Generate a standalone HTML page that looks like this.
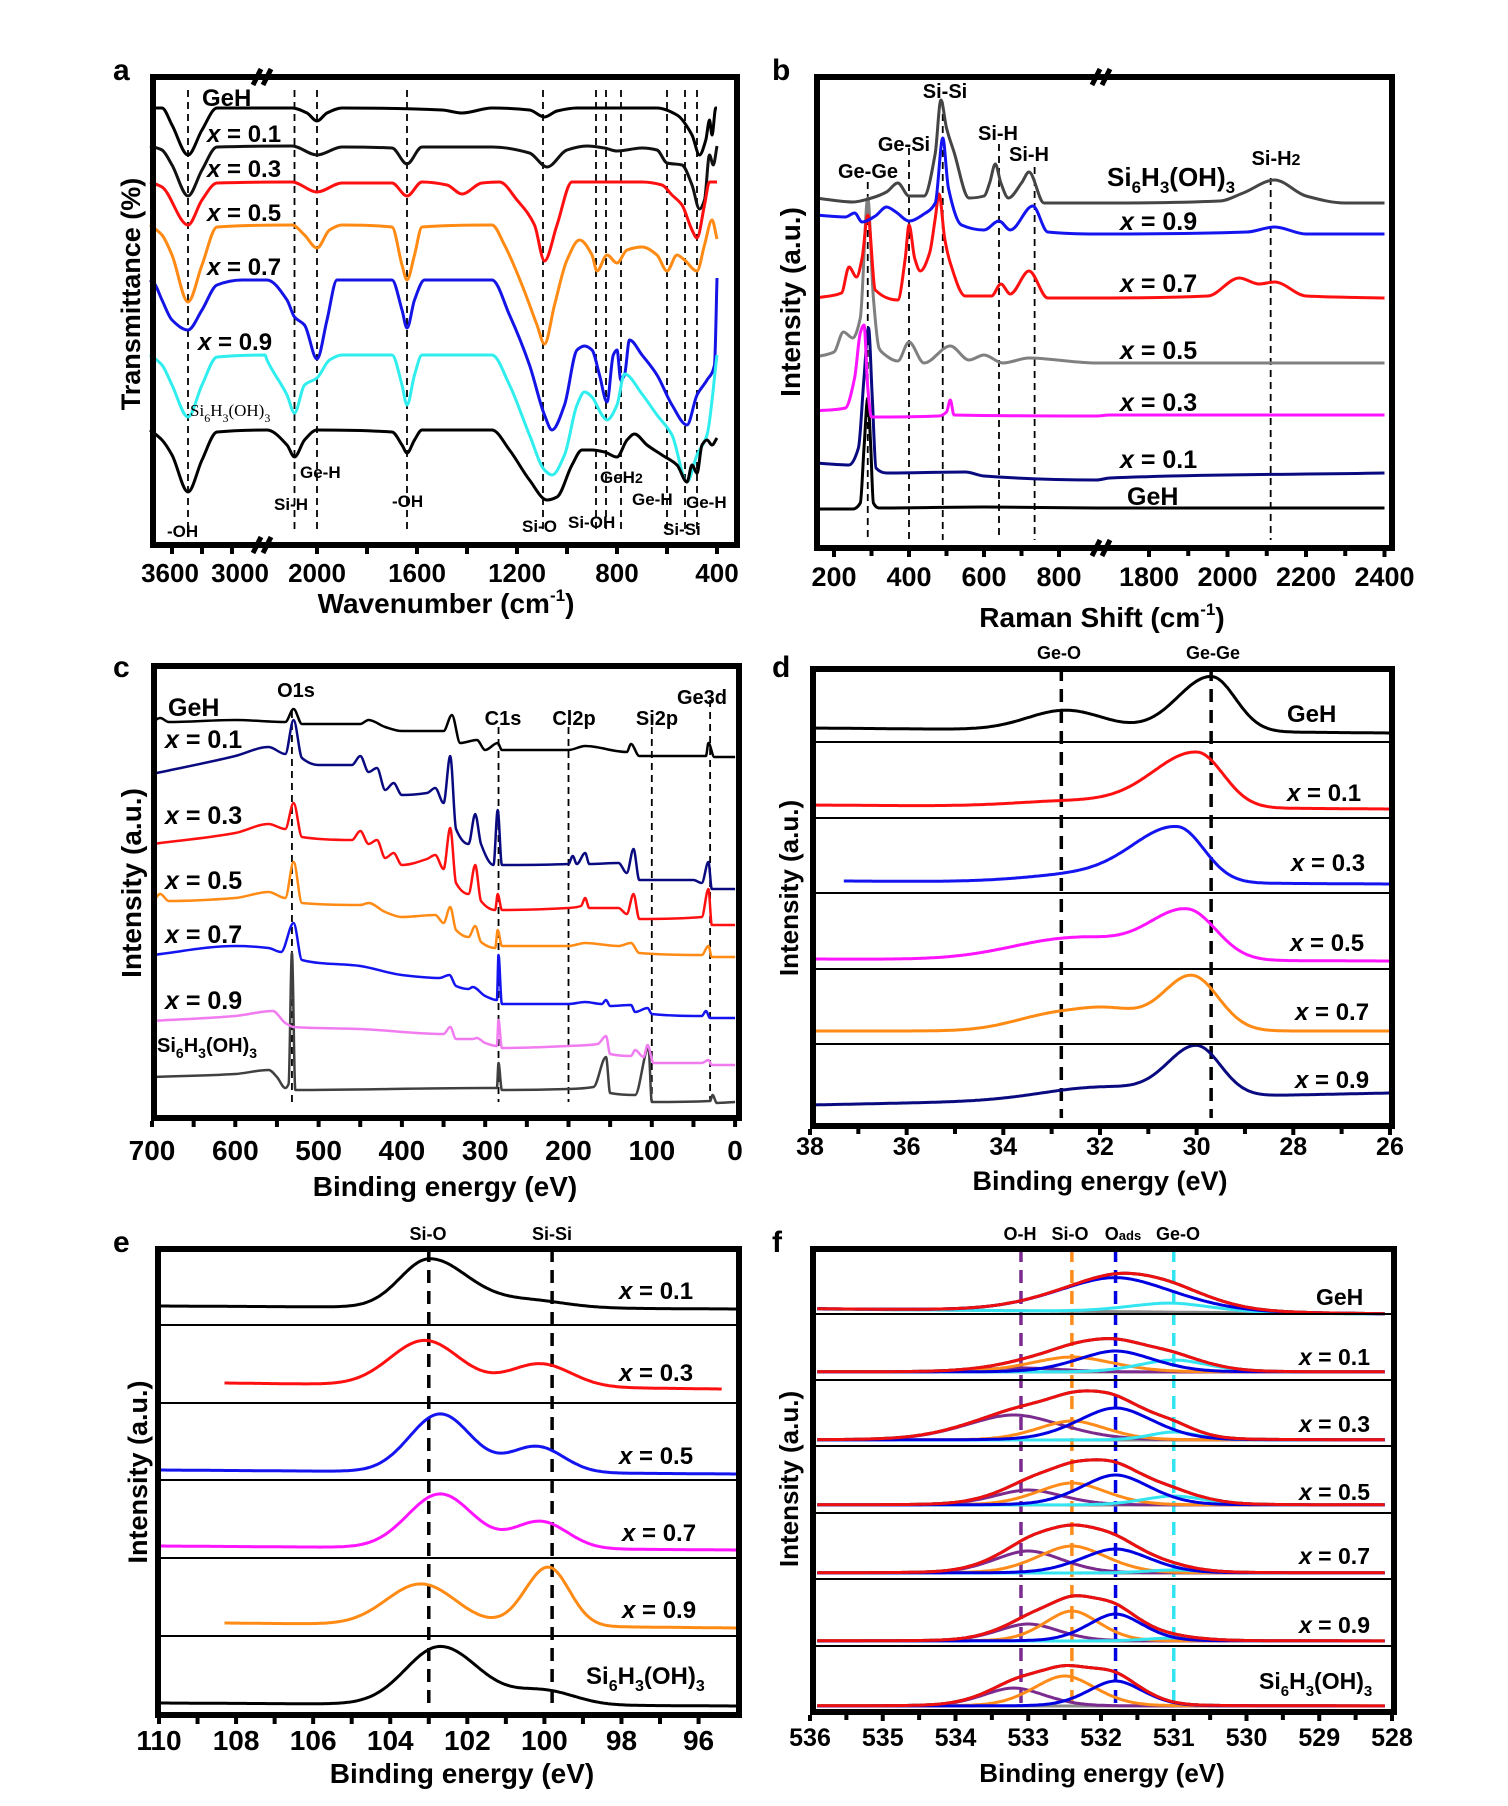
<!DOCTYPE html>
<html><head><meta charset="utf-8"><style>
html,body{margin:0;padding:0;background:#fff}
svg{display:block}
text{font-family:"Liberation Sans",Arial,sans-serif;font-weight:bold;fill:#000}
</style></head><body>
<svg id="fig" xmlns="http://www.w3.org/2000/svg" width="1508" height="1806" viewBox="0 0 1508 1806">
<rect x="0" y="0" width="1508" height="1806" fill="#fff"/>
<g id="layer-curves"></g>
<g id="layer-frame"></g>

<text x="113" y="80" font-size="30">a</text>
<text x="772" y="80" font-size="30">b</text>
<text x="113" y="677" font-size="30">c</text>
<text x="772" y="677" font-size="30">d</text>
<text x="113" y="1252" font-size="30">e</text>
<text x="772" y="1252" font-size="30">f</text>

<g>
<text x="202" y="106" font-size="24">GeH</text>
<text x="207" y="142" font-size="24"><tspan font-style="italic">x</tspan> = 0.1</text>
<text x="207" y="177" font-size="24"><tspan font-style="italic">x</tspan> = 0.3</text>
<text x="207" y="221" font-size="24"><tspan font-style="italic">x</tspan> = 0.5</text>
<text x="207" y="275" font-size="24"><tspan font-style="italic">x</tspan> = 0.7</text>
<text x="198" y="350" font-size="24"><tspan font-style="italic">x</tspan> = 0.9</text>
<text x="190" y="416" font-size="17" style="font-family:'Liberation Serif',serif;font-weight:normal">Si<tspan font-size="12" dy="6">6</tspan><tspan dy="-6">H</tspan><tspan font-size="12" dy="6">3</tspan><tspan dy="-6">(OH)</tspan><tspan font-size="12" dy="6">3</tspan></text>
<text x="300" y="478" font-size="17">Ge-H</text>
<text x="274" y="510" font-size="17">Si-H</text>
<text x="167" y="537" font-size="17">-OH</text>
<text x="392" y="507" font-size="17">-OH</text>
<text x="522" y="532" font-size="17">Si-O</text>
<text x="568" y="528" font-size="17">Si-OH</text>
<text x="600" y="483" font-size="17">GeH<tspan font-size="14">2</tspan></text>
<text x="632" y="505" font-size="17">Ge-H</text>
<text x="686" y="508" font-size="17">Ge-H</text>
<text x="663" y="535" font-size="17">Si-Si</text>
<text x="446" y="613" font-size="28" text-anchor="middle">Wavenumber (cm<tspan font-size="17" dy="-12">-1</tspan><tspan dy="12">)</tspan></text>
<text transform="translate(140,294) rotate(-90)" font-size="27" text-anchor="middle">Transmittance (%)</text>
</g>

<g>
<text x="945" y="98" font-size="20" text-anchor="middle">Si-Si</text>
<text x="904" y="151" font-size="20" text-anchor="middle">Ge-Si</text>
<text x="868" y="178" font-size="20" text-anchor="middle">Ge-Ge</text>
<text x="998" y="140" font-size="20" text-anchor="middle">Si-H</text>
<text x="1029" y="161" font-size="20" text-anchor="middle">Si-H</text>
<text x="1276" y="165" font-size="20" text-anchor="middle">Si-H<tspan font-size="16">2</tspan></text>
<text x="1107" y="186" font-size="26">Si<tspan font-size="17" dy="7">6</tspan><tspan dy="-7">H</tspan><tspan font-size="17" dy="7">3</tspan><tspan dy="-7">(OH)</tspan><tspan font-size="17" dy="7">3</tspan></text>
<text x="1120" y="230" font-size="25"><tspan font-style="italic">x</tspan> = 0.9</text>
<text x="1120" y="292" font-size="25"><tspan font-style="italic">x</tspan> = 0.7</text>
<text x="1120" y="359" font-size="25"><tspan font-style="italic">x</tspan> = 0.5</text>
<text x="1120" y="411" font-size="25"><tspan font-style="italic">x</tspan> = 0.3</text>
<text x="1120" y="468" font-size="25"><tspan font-style="italic">x</tspan> = 0.1</text>
<text x="1127" y="505" font-size="25">GeH</text>
<text x="1102" y="627" font-size="28" text-anchor="middle">Raman Shift (cm<tspan font-size="17" dy="-12">-1</tspan><tspan dy="12">)</tspan></text>
<text transform="translate(800,302) rotate(-90)" font-size="28" text-anchor="middle">Intensity (a.u.)</text>
</g>

<g>
<text x="296" y="697" font-size="20" text-anchor="middle">O1s</text>
<text x="503" y="725" font-size="20" text-anchor="middle">C1s</text>
<text x="574" y="725" font-size="20" text-anchor="middle">Cl2p</text>
<text x="657" y="725" font-size="20" text-anchor="middle">Si2p</text>
<text x="702" y="704" font-size="20" text-anchor="middle">Ge3d</text>
<text x="168" y="716" font-size="25">GeH</text>
<text x="165" y="748" font-size="25"><tspan font-style="italic">x</tspan> = 0.1</text>
<text x="165" y="824" font-size="25"><tspan font-style="italic">x</tspan> = 0.3</text>
<text x="165" y="889" font-size="25"><tspan font-style="italic">x</tspan> = 0.5</text>
<text x="165" y="943" font-size="25"><tspan font-style="italic">x</tspan> = 0.7</text>
<text x="165" y="1009" font-size="25"><tspan font-style="italic">x</tspan> = 0.9</text>
<text x="157" y="1052" font-size="20">Si<tspan font-size="14" dy="6">6</tspan><tspan dy="-6">H</tspan><tspan font-size="14" dy="6">3</tspan><tspan dy="-6">(OH)</tspan><tspan font-size="14" dy="6">3</tspan></text>
<text x="445" y="1196" font-size="28" text-anchor="middle">Binding energy (eV)</text>
<text transform="translate(141,883) rotate(-90)" font-size="28" text-anchor="middle">Intensity (a.u.)</text>
</g>

<g>
<text x="1059" y="659" font-size="18" text-anchor="middle">Ge-O</text>
<text x="1213" y="659" font-size="18" text-anchor="middle">Ge-Ge</text>
<text x="1287" y="722" font-size="24">GeH</text>
<text x="1287" y="801" font-size="24"><tspan font-style="italic">x</tspan> = 0.1</text>
<text x="1291" y="871" font-size="24"><tspan font-style="italic">x</tspan> = 0.3</text>
<text x="1290" y="951" font-size="24"><tspan font-style="italic">x</tspan> = 0.5</text>
<text x="1295" y="1020" font-size="24"><tspan font-style="italic">x</tspan> = 0.7</text>
<text x="1295" y="1088" font-size="24"><tspan font-style="italic">x</tspan> = 0.9</text>
<text x="1100" y="1190" font-size="27" text-anchor="middle">Binding energy (eV)</text>
<text transform="translate(798,888) rotate(-90)" font-size="26" text-anchor="middle">Intensity (a.u.)</text>
</g>

<g>
<text x="428" y="1240" font-size="18" text-anchor="middle">Si-O</text>
<text x="552" y="1240" font-size="18" text-anchor="middle">Si-Si</text>
<text x="619" y="1299" font-size="24"><tspan font-style="italic">x</tspan> = 0.1</text>
<text x="619" y="1381" font-size="24"><tspan font-style="italic">x</tspan> = 0.3</text>
<text x="619" y="1464" font-size="24"><tspan font-style="italic">x</tspan> = 0.5</text>
<text x="622" y="1541" font-size="24"><tspan font-style="italic">x</tspan> = 0.7</text>
<text x="622" y="1618" font-size="24"><tspan font-style="italic">x</tspan> = 0.9</text>
<text x="586" y="1684" font-size="24">Si<tspan font-size="16" dy="7">6</tspan><tspan dy="-7">H</tspan><tspan font-size="16" dy="7">3</tspan><tspan dy="-7">(OH)</tspan><tspan font-size="16" dy="7">3</tspan></text>
<text x="462" y="1783" font-size="28" text-anchor="middle">Binding energy (eV)</text>
<text transform="translate(147,1472) rotate(-90)" font-size="27" text-anchor="middle">Intensity (a.u.)</text>
</g>

<g>
<text x="1020" y="1240" font-size="18" text-anchor="middle">O-H</text>
<text x="1070" y="1240" font-size="18" text-anchor="middle">Si-O</text>
<text x="1123" y="1240" font-size="18" text-anchor="middle">O<tspan font-size="13">ads</tspan></text>
<text x="1178" y="1240" font-size="18" text-anchor="middle">Ge-O</text>
<text x="1316" y="1305" font-size="23">GeH</text>
<text x="1299" y="1365" font-size="23"><tspan font-style="italic">x</tspan> = 0.1</text>
<text x="1299" y="1432" font-size="23"><tspan font-style="italic">x</tspan> = 0.3</text>
<text x="1299" y="1500" font-size="23"><tspan font-style="italic">x</tspan> = 0.5</text>
<text x="1299" y="1564" font-size="23"><tspan font-style="italic">x</tspan> = 0.7</text>
<text x="1299" y="1633" font-size="23"><tspan font-style="italic">x</tspan> = 0.9</text>
<text x="1259" y="1689" font-size="23">Si<tspan font-size="15" dy="7">6</tspan><tspan dy="-7">H</tspan><tspan font-size="15" dy="7">3</tspan><tspan dy="-7">(OH)</tspan><tspan font-size="15" dy="7">3</tspan></text>
<text x="1102" y="1782" font-size="26" text-anchor="middle">Binding energy (eV)</text>
<text transform="translate(798,1479) rotate(-90)" font-size="26" text-anchor="middle">Intensity (a.u.)</text>
</g>
</svg>

<script>
// ================= DATA =================
const aGeH = [[3820,437],[3700,437],[3600,420],[3440,390],[3300,415],[3150,437],[2100,437],[2040,432],[2000,424],[1960,432],[1900,437],[1500,435],[1420,432],[1300,437],[1150,435],[1090,428],[1040,434],[960,437],[640,437],[560,430],[500,410],[470,390],[445,405],[430,425],[420,410],[405,437],[400,437]];
const aX01 = [[3820,399],[3700,395],[3600,380],[3440,349],[3300,375],[3150,398],[2100,399],[2000,390],[1900,398],[1700,397],[1640,381],[1580,398],[1300,398],[1150,392],[1080,378],[1000,395],[920,399],[850,397],[800,394],[700,397],[640,395],[600,382],[540,380],[500,360],[470,336],[450,345],[430,390],[415,380],[400,399]];
const aX03 = [[3820,363],[3700,358],[3440,320],[3300,345],[3150,362],[2100,363],[2000,353],[1900,362],[1700,362],[1640,349],[1580,363],[1480,360],[1420,351],[1340,362],[1270,363],[1200,345],[1130,320],[1090,284],[1040,320],[980,363],[700,363],[620,360],[580,350],[540,340],[500,315],[480,307],[450,340],[430,363],[400,363]];
const aX05 = [[3820,320],[3700,310],[3600,290],[3440,243],[3300,280],[3150,318],[2100,320],[2050,310],[2000,297],[1950,315],[1900,320],[1700,318],[1660,280],[1640,265],[1610,290],[1580,318],[1300,320],[1250,300],[1180,260],[1120,220],[1090,201],[1050,240],[1000,285],[950,305],[900,290],[880,274],[840,290],[800,282],[760,295],[700,298],[640,290],[600,274],[560,290],[530,285],[480,274],[450,300],[420,325],[400,306]];
const aX07 = [[3820,265],[3780,262],[3700,245],[3600,225],[3440,215],[3300,235],[3150,260],[2900,265],[2200,265],[2120,245],[2090,228],[2050,220],[2000,186],[1960,225],[1920,265],[1700,265],[1660,235],[1640,217],[1610,245],[1570,265],[1300,265],[1230,230],[1150,180],[1090,130],[1060,115],[1010,140],[960,195],[930,199],[900,195],[870,170],[840,143],[815,190],[800,195],[785,165],[770,170],[750,205],[700,190],[640,170],[580,140],[520,120],[480,150],[440,165],[410,180],[400,267]];
const aX09 = [[3820,190],[3700,180],[3600,160],[3440,128],[3300,160],[3150,188],[2300,190],[2200,185],[2120,150],[2090,132],[2050,160],[2000,167],[1950,185],[1900,190],[1700,190],[1660,160],[1640,140],[1610,170],[1580,190],[1300,190],[1230,160],[1150,110],[1090,75],[1060,70],[1010,90],[960,140],[930,153],[900,148],[860,130],[840,125],[800,140],[770,171],[700,151],[640,130],[580,110],[520,63],[480,90],[440,110],[400,190]];
const aSi6 = [[3820,115],[3700,105],[3600,90],[3440,53],[3300,85],[3150,113],[2200,115],[2120,100],[2090,88],[2050,105],[2000,115],[1700,113],[1660,100],[1640,92],[1610,105],[1580,115],[1300,115],[1230,95],[1150,65],[1080,45],[1040,48],[980,80],[940,95],[900,95],[850,93],[800,88],[760,105],[730,111],[680,100],[620,90],[560,80],[520,63],[500,80],[480,72],[460,100],[440,105],[420,100],[400,107]];
const aDashes = [3440,2090,2000,1640,1096,884,844,784,600,528,480];
const aTicksLeft = [3600,3000];
const aTicksRight = [2000,1600,1200,800,400];

const bGeH = [[150,39],[250,39],[270,45],[280,100],[290,150],[298,100],[305,45],[320,40],[600,41],[900,40],[1700,40],[2400,40]];
const bX01 = [[150,85],[240,83],[265,100],[280,170],[292,220],[302,150],[312,80],[340,75],[550,76],[600,72],[900,68],[1700,70],[2400,75]];
const bX03 = [[150,137],[230,140],[255,170],[270,215],[280,223],[290,160],[300,131],[480,132],[500,136],[510,148],[520,133],[900,132],[1700,133],[2400,133]];
const bX05 = [[150,191],[200,196],[225,216],[250,210],[270,230],[290,350],[305,250],[320,200],[330,195],[370,187],[400,206],[440,185],[510,202],[560,188],[600,193],[650,185],[720,190],[850,186],[900,185],[1700,185],[2400,185]];
const bX07 = [[150,250],[220,255],[240,281],[260,271],[275,290],[290,333],[310,258],[370,248],[390,290],[400,323],[415,290],[430,277],[455,295],[470,330],[480,354],[495,310],[510,285],[550,252],[620,252],[645,264],[670,254],[720,277],[770,250],[900,250],[1700,250],[1950,252],[2030,270],[2080,264],[2120,266],[2200,252],[2400,250]];
const bX09 = [[150,333],[230,331],[255,335],[275,326],[310,332],[340,341],[365,336],[400,327],[440,334],[470,345],[490,410],[505,360],[540,323],[600,318],[640,327],[670,318],[730,342],[770,316],[900,314],[1700,314],[2050,316],[2120,321],[2200,314],[2400,314]];
const bSi6 = [[150,350],[250,346],[300,350],[340,356],[370,365],[400,352],[440,352],[470,395],[485,448],[500,420],[520,396],[560,350],[600,352],[615,365],[630,384],[645,365],[665,350],[700,365],[720,376],[760,345],[900,345],[1700,345],[1980,347],[2040,355],[2120,368],[2200,352],[2300,345],[2400,345]];
const bDashes = [[290,366],[400,400],[490,446],[640,404],[735,381],[2110,370]];
const bTicksLeft = [200,400,600,800];
const bTicksRight = [1800,2000,2200,2400];

const cGeH = [[700,396],[690,400],[680,396],[600,398],[540,396],[530,409],[520,394],[450,394],[440,398],[420,391],[400,387],[350,387],[340,403],[330,375],[310,378],[300,368],[285,375],[280,368],[200,368],[180,372],[130,366],[125,374],[115,362],[35,362],[32,375],[25,361],[0,361]];
const cX01 = [[700,344],[600,362],[560,371],[540,364],[530,398],[520,360],[500,353],[460,353],[450,362],[440,346],[430,350],[420,328],[410,335],[400,323],[370,325],[360,330],[350,315],[342,362],[335,289],[320,274],[312,304],[305,274],[290,253],[285,308],[280,253],[200,254],[195,262],[190,254],[180,265],[175,254],[140,255],[130,245],[122,269],[115,238],[50,238],[40,235],[32,256],[28,229],[0,229]];
const cX03 = [[700,274],[600,285],[560,294],[540,289],[530,315],[520,281],[460,278],[450,287],[440,274],[430,278],[420,260],[410,265],[400,253],[370,259],[360,263],[350,249],[342,290],[335,235],[320,224],[312,253],[305,217],[288,208],[285,224],[280,208],[200,210],[185,212],[180,220],[175,210],[140,210],[130,204],[122,224],[115,199],[40,201],[32,229],[28,193],[0,193]];
const cX05 = [[700,215],[690,224],[680,217],[600,220],[560,226],[540,220],[530,256],[520,215],[450,213],[440,215],[420,206],[400,201],[360,203],[350,195],[342,211],[335,188],[320,181],[312,192],[305,176],[288,170],[285,188],[280,172],[200,172],[180,175],[140,172],[125,175],[115,165],[40,163],[32,172],[28,161],[0,161]];
const cX07 = [[700,163],[600,172],[560,170],[545,166],[530,195],[520,158],[450,152],[400,143],[355,140],[343,143],[335,132],[320,129],[315,131],[300,122],[286,118],[284,163],[280,114],[200,114],[180,116],[160,114],[155,118],[150,112],[125,113],[120,106],[105,110],[100,104],[40,102],[35,107],[30,100],[0,100]];
const cX09 = [[700,97],[600,102],[555,107],[540,95],[530,91],[450,89],[350,84],[342,91],[335,79],[315,79],[310,80],[300,75],[286,72],[284,98],[280,70],[200,72],[165,74],[155,82],[150,64],[125,62],[120,68],[110,61],[105,73],[98,55],[40,55],[32,58],[28,53],[0,53]];
const cSi6 = [[700,41],[600,44],[560,48],[550,41],[540,30],[536,34],[532,165],[528,28],[300,30],[286,30],[284,55],[280,28],[200,29],[170,31],[155,61],[150,25],[120,23],[104,70],[100,16],[30,17],[27,23],[22,15],[0,16]];
const cDashes = [[532,407],[284,391],[200,391],[100,391],[30,418]];
const cTicks = [700,600,500,400,300,200,100,0];

const dRange = [[38,26],[38,26],[37.3,26],[38,26],[38,26],[38,26]];
const dBase = [[398,393],[321,317],[245,242],[167,165],[95,95],[21,33]];
const dPeaksGeH = [[32.7,20,0.8,0.8],[29.7,55,0.7,0.5]];
const dPeaksX01 = [[30.0,55,0.9,0.55],[32.5,6,1.2,1.2]];
const dPeaksX03 = [[30.4,54,0.9,0.55],[32.3,8,1.2,1.2]];
const dPeaksX05 = [[30.2,50,0.8,0.6],[32.5,22,1.3,1.0]];
const dPeaksX07 = [[30.1,55,0.6,0.55],[32.8,18,0.9,1.0],[31.7,12,0.6,0.6]];
const dPeaksX09 = [[30.0,50,0.6,0.5],[32.0,12,1.2,1.0]];
const dSeparators = [384,308,233,157,82];
const dDashes = [32.8,29.7];
const dTicks = [38,36,34,32,30,28,26];

const eRange = [[110,95],[108.3,95.4],[110,95],[110,95],[108.3,95],[110,95]];
const eBase = [[409,406],[332,326],[245,241],[169,165],[92,87],[12,9]];
const ePeaksX01 = [[103.0,47,0.75,0.95],[100.5,8,1.4,1.0]];
const ePeaksX03 = [[103.1,45,0.9,0.9],[100.1,23,0.8,0.8]];
const ePeaksX05 = [[102.7,58,0.8,0.8],[100.2,26,0.7,0.7]];
const ePeaksX07 = [[102.7,54,0.85,0.85],[100.1,27,0.7,0.7]];
const ePeaksX09 = [[103.2,41,0.9,0.9],[99.9,59,0.6,0.55]];
const ePeaksSi6 = [[102.7,58,0.9,1.0],[100.0,14,0.8,0.8]];
const eSeparators = [390,312,235,157,79];
const eDashes = [103.0,99.8];
const eTicks = [110,108,106,104,102,100,98,96];

const fBase = [[403,398],[340,340],[272,272],[207,207],[139,139],[71,71],[6,6]];
const fOads = [[531.8,34,0.85],[531.8,21,0.55],[531.8,32,0.55],[531.8,30,0.5],[531.8,24,0.5],[531.8,27,0.4],[531.8,25,0.4]];
const fGeO  = [[531.05,9,0.6],[531.0,12,0.5],[531.0,8,0.35],[531.0,9,0.45],[531.0,3,0.4],[531.0,3,0.4],[531.0,0,0.4]];
const fSiO  = [[532.4,0,0.5],[532.4,15,0.6],[532.4,19,0.5],[532.4,22,0.5],[532.4,27,0.5],[532.4,30,0.4],[532.5,30,0.45]];
const fOH   = [[533.1,0,0.5],[533.1,4,0.6],[533.2,25,0.7],[533.0,15,0.5],[533.0,22,0.5],[533.0,17,0.45],[533.2,18,0.45]];
const fSeparators = [398,332,266,199,133,66];
const fDashes = [[533.1,'#7b2a8e'],[532.4,'#ff8c1a'],[531.8,'#0000e0'],[531.0,'#33e5f0']];
const fTicks = [536,535,534,533,532,531,530,529,528];

// ================= DRAWING =================
const NS = 'http://www.w3.org/2000/svg';
const curves = document.getElementById('layer-curves');
const frame = document.getElementById('layer-frame');
function mk(tag, attrs, parent){ const e=document.createElementNS(NS,tag); for(const k in attrs) e.setAttribute(k,attrs[k]); (parent||curves).appendChild(e); return e; }
// monotone cubic interpolation in x (no overshoot)
function monotone(P){
  const n=P.length; if(n<3) return line(P);
  const dx=[],s=[];
  for(let i=0;i<n-1;i++){ dx[i]=P[i+1][0]-P[i][0]; s[i]= dx[i]===0?0:(P[i+1][1]-P[i][1])/dx[i]; }
  const m=[s[0]];
  for(let i=1;i<n-1;i++){ if(s[i-1]*s[i]<=0) m[i]=0; else { const w1=2*dx[i]+dx[i-1], w2=dx[i]+2*dx[i-1]; m[i]=(w1+w2)/(w1/s[i-1]+w2/s[i]); } }
  m[n-1]=s[n-2];
  let d='M'+P[0][0].toFixed(1)+','+P[0][1].toFixed(1);
  for(let i=0;i<n-1;i++){
    const h=dx[i]/3;
    d+='C'+(P[i][0]+h).toFixed(1)+','+(P[i][1]+m[i]*h).toFixed(1)+' '+(P[i+1][0]-h).toFixed(1)+','+(P[i+1][1]-m[i+1]*h).toFixed(1)+' '+P[i+1][0].toFixed(1)+','+P[i+1][1].toFixed(1);
  }
  return d;
}
function line(P){ return 'M'+P.map(p=>p[0].toFixed(1)+','+p[1].toFixed(1)).join('L'); }

function xA(w){ if(w>=2670) return 172+(3600-w)*0.1; if(w<=2208) return 317+(2000-w)*0.25; return 265; }
function yA(v){ return 545-v; }
function xB(r){ return r<=1000 ? 834+(r-200)*0.375 : 1149+(r-1800)*0.3925; }
function yB(v){ return 548-v; }
function xC(e){ return 152+(700-e)*0.833; }
function yC(v){ return 1118-v; }
function xD(e){ return 810+(38-e)*48.33; }
function yD(v){ return 1126-v; }
function xE(e){ return 159+(110-e)*38.54; }
function yE(v){ return 1715-v; }
function xF(e){ return 810+(536-e)*72.75; }
function yF(v){ return 1712-v; }

function asym(x,pk){ const s = x<pk[0]? pk[3]: pk[2]; const u=(x-pk[0])/s; return pk[1]*Math.exp(-0.5*u*u); }
function comp(x,c){ const u=(x-c[0])/c[2]; return c[1]*(0.8*Math.exp(-0.5*u*u)+0.2/(1+u*u*1.4)); }

function knotSeries(data, fx, fy, color, name, w){
  let pts=data.map(q=>[fx(q[0]),fy(q[1])]);
  pts.sort((a,b)=>a[0]-b[0]);
  const p = mk('path',{d:monotone(pts),fill:'none',stroke:color,'stroke-width':w||3,'stroke-linejoin':'round'});
  
  
}
function peakSeries(range, base, peaks, fx, fy, color, name){
  const pts=[]; const n=300;
  for(let i=0;i<=n;i++){
    const e = range[0]+(range[1]-range[0])*i/n;
    const t = (range[0]-e)/(range[0]-range[1]);
    let v = base[0]+(base[1]-base[0])*t;
    for(const pk of peaks) v += asym(e,pk);
    pts.push([fx(e),fy(v)]);
  }
  const p = mk('path',{d:line(pts),fill:'none',stroke:color,'stroke-width':3,'stroke-linejoin':'round'});
  
  
}
function dashV(x,y1,y2,color,w,dash,name){
  const l = mk('line',{x1:x,x2:x,y1:y1,y2:y2,stroke:color,'stroke-width':w,'stroke-dasharray':dash});
  
  
}
function box(x1,y1,x2,y2,name){
  const r = mk('rect',{x:x1,y:y1,width:x2-x1,height:y2-y1,fill:'none',stroke:'#000','stroke-width':6},frame);
  
  
}
function tick(x,y,len,name,w){
  const t = mk('line',{x1:x,x2:x,y1:y,y2:y+len,stroke:'#000','stroke-width':w||4},frame);
  
  
}
function tlabel(x,y,txt,fs,name){
  const t = mk('text',{x:x,y:y,'font-size':fs,'text-anchor':'middle'},frame);
  t.textContent = txt;
  
  
}
function hsep(x1,x2,y,name){
  const l = mk('line',{x1:x1,x2:x2,y1:y,y2:y,stroke:'#000','stroke-width':2},frame);
  
  
}
function brk(x,y){
  const g = mk('path',{d:`M${x-12},${y+8}L${x-4},${y-8}M${x-2},${y+8}L${x+6},${y-8}`,stroke:'#000','stroke-width':5,fill:'none'},frame);
  
  
}

// ---- panel a ----
aDashes.forEach(w=>dashV(xA(w),90,530,'#000',1.8,'7,5','dash-a'));
knotSeries(aGeH,xA,yA,'#000','series-a-geh');
knotSeries(aX01,xA,yA,'#111','series-a-x01');
knotSeries(aX03,xA,yA,'#ff1010','series-a-x03');
knotSeries(aX05,xA,yA,'#ff8a14','series-a-x05');
knotSeries(aX07,xA,yA,'#1414e6','series-a-x07');
knotSeries(aX09,xA,yA,'#30eeee','series-a-x09');
knotSeries(aSi6,xA,yA,'#000','series-a-si6');
box(153,77,737,545,'panel-a-frame');
aTicksLeft.forEach(w=>{ tick(xA(w),548,6,'x-tick-a'); tlabel(xA(w)+(w===3600?-2:8),582,String(w),26,'x-tick-label-a'); });
aTicksRight.forEach(w=>{ tick(xA(w),548,6,'x-tick-a'); tlabel(xA(w),582,String(w),26,'x-tick-label-a'); });
[3300,1800,1400,1000,600].forEach(w=>tick(xA(w),548,6,'x-minor-tick-a'));
brk(265,77); brk(265,545);

// ---- panel b ----
bDashes.forEach(d=>dashV(xB(d[0]),yB(d[1]),540,'#000',1.8,'7,5','dash-b'));
knotSeries(bGeH,xB,yB,'#000','series-b-geh');
knotSeries(bX01,xB,yB,'#0a0a80','series-b-x01');
knotSeries(bX03,xB,yB,'#ff14ff','series-b-x03');
knotSeries(bX05,xB,yB,'#808080','series-b-x05');
knotSeries(bX07,xB,yB,'#ff1010','series-b-x07');
knotSeries(bX09,xB,yB,'#1414f0','series-b-x09');
knotSeries(bSi6,xB,yB,'#454545','series-b-si6');
box(817,77,1392,548,'panel-b-frame');
bTicksLeft.concat(bTicksRight).forEach(r=>{ tick(xB(r),551,6,'x-tick-b'); tlabel(xB(r),586,String(r),27,'x-tick-label-b'); });
[300,500,700,1900,2100,2300].forEach(r=>tick(xB(r),551,5,'x-minor-tick-b'));
brk(1104,77); brk(1104,548);

// ---- panel c ----
cDashes.forEach(d=>dashV(xC(d[0]),yC(d[1]),1102,'#000',1.8,'7,5','dash-c'));
knotSeries(cGeH,xC,yC,'#000','series-c-geh',2.5);
knotSeries(cX01,xC,yC,'#0a0a80','series-c-x01',2.5);
knotSeries(cX03,xC,yC,'#ff1010','series-c-x03',2.5);
knotSeries(cX05,xC,yC,'#ff8a14','series-c-x05',2.5);
knotSeries(cSi6,xC,yC,'#404040','series-c-si6',2.5);
knotSeries(cX09,xC,yC,'#f07cf0','series-c-x09',2.5);
knotSeries(cX07,xC,yC,'#1414f0','series-c-x07',2.5);
box(154,666,739,1118,'panel-c-frame');
cTicks.forEach(e=>{ tick(xC(e),1121,6,'x-tick-c'); tlabel(xC(e),1160,String(e),28,'x-tick-label-c'); });
[650,550,450,350,250,150,50].forEach(e=>tick(xC(e),1121,6,'x-minor-tick-c'));

// ---- panel d ----
dDashes.forEach(e=>dashV(xD(e),668,1118,'#000',3.5,'13,8','dash-d'));
peakSeries(dRange[0],dBase[0],dPeaksGeH,xD,yD,'#000','series-d-geh');
peakSeries(dRange[1],dBase[1],dPeaksX01,xD,yD,'#ff1010','series-d-x01');
peakSeries(dRange[2],dBase[2],dPeaksX03,xD,yD,'#1414f0','series-d-x03');
peakSeries(dRange[3],dBase[3],dPeaksX05,xD,yD,'#ff14ff','series-d-x05');
peakSeries(dRange[4],dBase[4],dPeaksX07,xD,yD,'#ff8a14','series-d-x07');
peakSeries(dRange[5],dBase[5],dPeaksX09,xD,yD,'#0a0a80','series-d-x09');
dSeparators.forEach(v=>hsep(812,1390,yD(v),'row-separator-d'));
box(813,669,1392,1126,'panel-d-frame');
dTicks.forEach(e=>{ tick(xD(e),1129,6,'x-tick-d'); tlabel(xD(e),1155,String(e),25,'x-tick-label-d'); });
[37,35,33,31,29,27].forEach(e=>tick(xD(e),1129,5,'x-minor-tick-d'));

// ---- panel e ----
eDashes.forEach(e=>dashV(xE(e),1249,1708,'#000',3.5,'13,8','dash-e'));
peakSeries(eRange[0],eBase[0],ePeaksX01,xE,yE,'#000','series-e-x01');
peakSeries(eRange[1],eBase[1],ePeaksX03,xE,yE,'#ff1010','series-e-x03');
peakSeries(eRange[2],eBase[2],ePeaksX05,xE,yE,'#1414f0','series-e-x05');
peakSeries(eRange[3],eBase[3],ePeaksX07,xE,yE,'#ff14ff','series-e-x07');
peakSeries(eRange[4],eBase[4],ePeaksX09,xE,yE,'#ff8a14','series-e-x09');
peakSeries(eRange[5],eBase[5],ePeaksSi6,xE,yE,'#000','series-e-si6');
eSeparators.forEach(v=>hsep(158,736,yE(v),'row-separator-e'));
box(158,1249,739,1715,'panel-e-frame');
eTicks.forEach(e=>{ tick(xE(e),1718,6,'x-tick-e'); tlabel(xE(e),1750,String(e),28,'x-tick-label-e'); });
[109,107,105,103,101,99,97].forEach(e=>tick(xE(e),1718,6,'x-minor-tick-e'));

// ---- panel f ----
fDashes.forEach(d=>dashV(xF(d[0]),1249,1705,d[1],3.5,'13,8','dash-f'));
function fCurve(row, comps, color, name){
  const pts=[];
  for(let i=0;i<=260;i++){
    const e = 535.9-(535.9-528.1)*i/260;
    const t=(535.9-e)/7.8;
    let v = fBase[row][0]+(fBase[row][1]-fBase[row][0])*t;
    comps.forEach(c=>{ v += comp(e,c); });
    pts.push([xF(e),yF(v)]);
  }
  const p = mk('path',{d:line(pts),fill:'none',stroke:color,'stroke-width':3,'stroke-linejoin':'round'});
  
  
}
for(let r=0;r<7;r++){
  const all=[fOads[r],fGeO[r],fSiO[r],fOH[r]];
  fCurve(r,[], '#888888','fit-background-f');
  fCurve(r,all,'#000','series-f-raw');
  if(fOH[r][1]>0) fCurve(r,[fOH[r]],'#7b2a8e','fit-oh-f');
  if(fSiO[r][1]>0) fCurve(r,[fSiO[r]],'#ff8c1a','fit-sio-f');
  if(fGeO[r][1]>0) fCurve(r,[fGeO[r]],'#33e5f0','fit-geo-f');
  fCurve(r,[fOads[r]],'#0000e0','fit-oads-f');
  fCurve(r,all,'#ee1010','fit-envelope-f');
}
fSeparators.forEach(v=>hsep(812,1392,yF(v),'row-separator-f'));
box(813,1249,1394,1712,'panel-f-frame');
fTicks.forEach(e=>{ tick(xF(e),1715,6,'x-tick-f'); tlabel(xF(e),1746,String(e),25,'x-tick-label-f'); });
[535.5,534.5,533.5,532.5,531.5,530.5,529.5,528.5].forEach(e=>tick(xF(e),1715,5,'x-minor-tick-f'));
</script>
</body></html>
